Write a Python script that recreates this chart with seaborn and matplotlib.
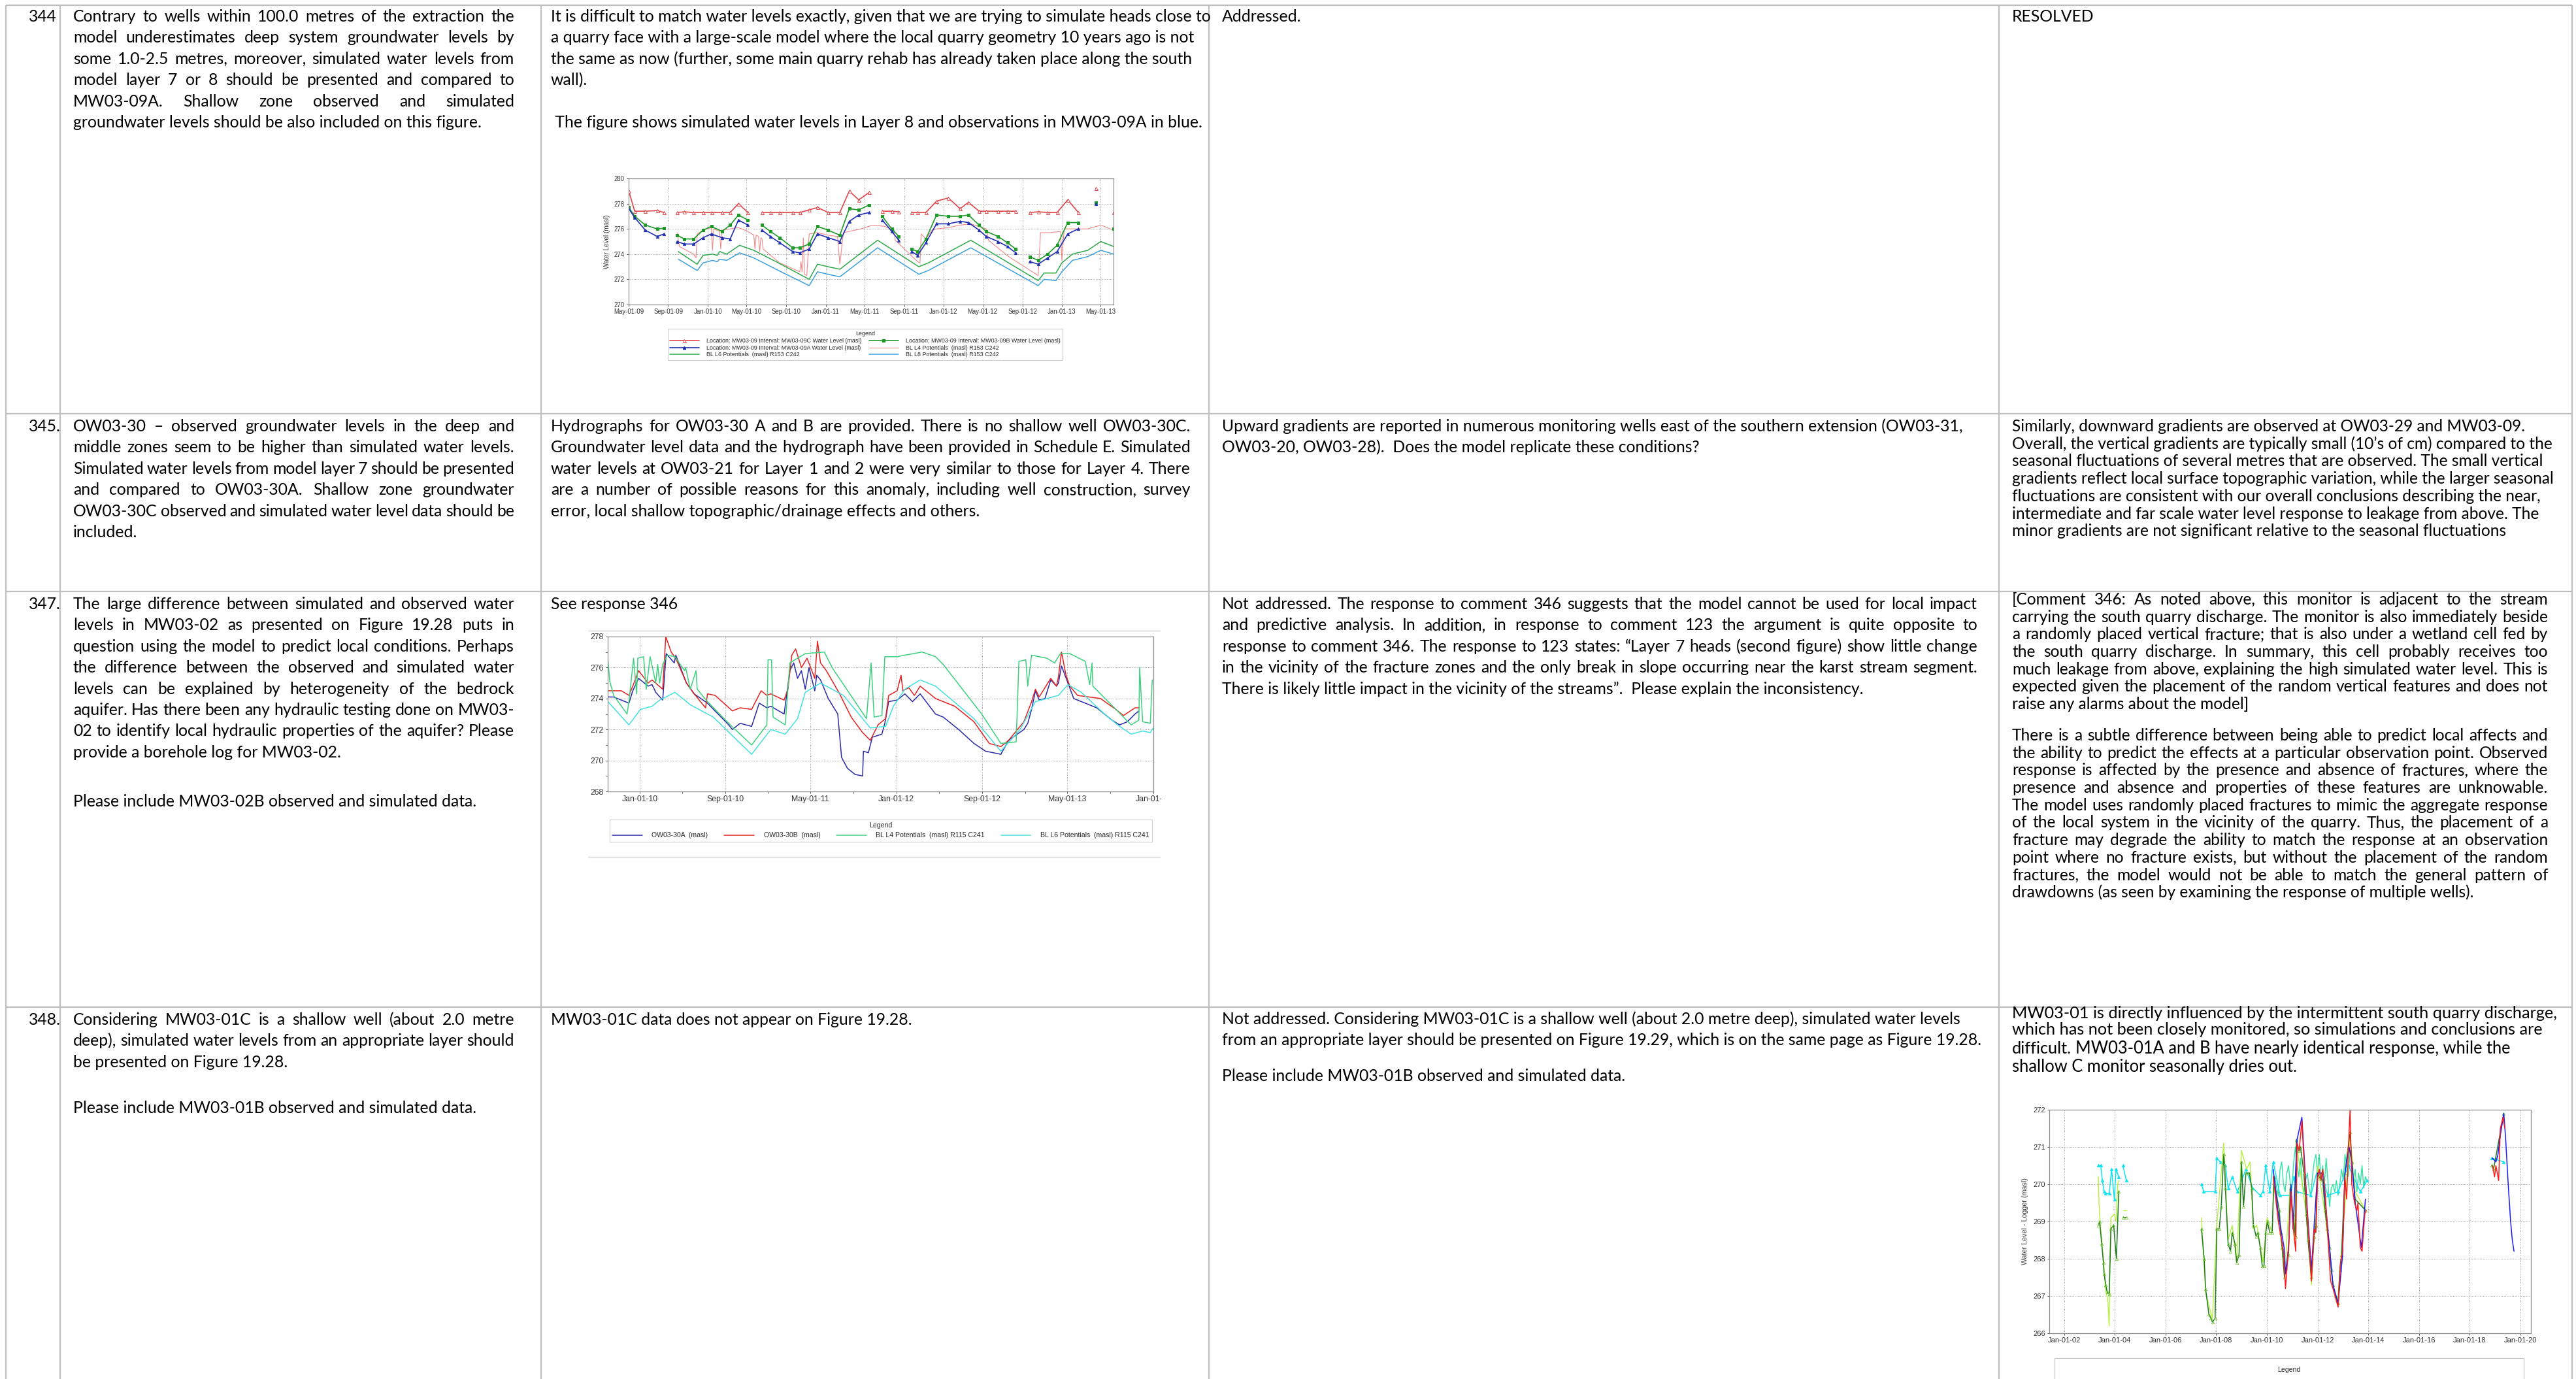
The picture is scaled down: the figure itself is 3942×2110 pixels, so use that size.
import matplotlib
matplotlib.use("Agg")
import matplotlib.pyplot as plt
import matplotlib.dates as mdates
import matplotlib.font_manager as fm
from matplotlib.lines import Line2D
from matplotlib.patches import Rectangle
import numpy as np
import pandas as pd
import seaborn as sns

# ---------------- chart 1 (MW03-09, row 344) ----------------
t_obs = [2009.33, 2009.38, 2009.47, 2009.57, 2009.63, None,
         2009.74, 2009.80, 2009.88, 2009.96, 2010.03, 2010.12, 2010.19, 2010.26, 2010.34, None,
         2010.46, 2010.53, 2010.61, 2010.72, 2010.78, 2010.86, 2010.93, 2011.02, 2011.12, 2011.20, 2011.28, 2011.37, None,
         2011.48, 2011.56, 2011.62, None,
         2011.73, 2011.78, 2011.85, 2011.94, 2012.04, 2012.14, 2012.21, 2012.30, 2012.36, 2012.46, 2012.54, 2012.61, None,
         2012.73, 2012.80, 2012.88, 2012.96, 2013.05, 2013.14, None,
         2013.29, None,
         2013.44]
mw09c = [279.0, 277.4, 277.4, 277.45, 277.3, None,
         277.3, 277.35, 277.3, 277.3, 277.3, 277.3, 277.3, 278.0, 277.3, None,
         277.3, 277.3, 277.3, 277.3, 277.3, 277.5, 277.7, 277.3, 277.3, 279.0, 278.3, 278.9, None,
         277.4, 277.4, 277.35, None,
         277.3, 277.3, 277.3, 278.2, 278.45, 277.6, 278.1, 277.4, 277.4, 277.4, 277.4, 277.4, None,
         277.3, 277.35, 277.3, 277.3, 278.3, 277.3, None,
         279.2, None,
         277.3]
mw09b = [277.7, 277.0, 276.3, 276.0, 276.05, None,
         275.5, 275.2, 275.2, 275.9, 276.2, 275.8, 276.3, 277.1, 276.7, None,
         276.3, 275.8, 275.3, 274.5, 274.5, 274.8, 276.2, 275.9, 275.5, 277.6, 277.5, 277.9, None,
         277.0, 276.0, 275.4, None,
         274.4, 274.2, 275.2, 277.1, 277.0, 277.0, 277.1, 276.3, 275.8, 275.4, 274.9, 274.4, None,
         273.8, 273.5, 274.0, 274.7, 276.5, 276.5, None,
         278.1, None,
         276.0]
mw09a = [277.6, 276.9, 275.9, 275.4, 275.6, None,
         275.0, 274.8, 274.8, 275.3, 275.6, 275.3, 275.2, 276.7, 276.3, None,
         275.9, 275.4, 274.9, 274.2, 274.1, 274.4, 275.6, 275.3, 275.0, 276.6, 277.1, 277.3, None,
         276.7, 275.8, 275.1, None,
         274.2, 273.9, 274.9, 276.4, 276.4, 276.6, 276.5, 275.9, 275.4, 275.0, 274.6, 274.1, None,
         273.4, 273.2, 273.7, 274.2, 275.6, 276.0, None,
         278.0, None,
         None]
bl4_153 = [(2009.74, 275.7), (2009.76, 274.6), (2009.88, 274.0), (2009.90, 273.7), (2009.91, 275.6),
           (2009.96, 275.9), (2010.03, 276.1), (2010.04, 274.3), (2010.05, 276.0), (2010.10, 275.8),
           (2010.11, 274.4), (2010.12, 275.9), (2010.19, 276.0), (2010.26, 276.1), (2010.34, 275.8),
           (2010.39, 275.5), (2010.40, 274.4), (2010.41, 275.5), (2010.43, 275.4), (2010.44, 274.2),
           (2010.45, 275.3), (2010.46, 275.2), (2010.47, 274.4), (2010.61, 273.3), (2010.78, 272.6),
           (2010.79, 273.4), (2010.80, 272.6), (2010.81, 275.3), (2010.82, 272.4), (2010.84, 272.3),
           (2010.86, 275.6), (2010.93, 275.7), (2011.02, 275.5), (2011.10, 275.4), (2011.12, 273.2),
           (2011.15, 275.7), (2011.20, 275.8), (2011.30, 276.0), (2011.40, 276.3), (2011.50, 276.2),
           (2011.58, 275.9), (2011.59, 275.1), (2011.78, 273.4), (2011.80, 273.3), (2011.81, 275.6),
           (2011.85, 275.2), (2011.90, 275.9), (2011.94, 276.0), (2012.04, 276.1), (2012.14, 276.3),
           (2012.23, 276.4), (2012.36, 276.0), (2012.38, 275.1), (2012.55, 273.8), (2012.80, 272.3),
           (2012.82, 275.7), (2012.90, 275.7), (2012.99, 275.8), (2013.00, 273.5), (2013.02, 276.0),
           (2013.10, 276.0), (2013.22, 276.0), (2013.33, 276.3), (2013.44, 275.9)]
bl6_153 = [(2009.75, 274.2), (2009.91, 273.2), (2009.96, 273.9), (2010.04, 274.0), (2010.08, 273.9),
           (2010.10, 274.2), (2010.16, 274.0), (2010.27, 274.7), (2010.39, 274.3), (2010.60, 273.3),
           (2010.86, 272.0), (2010.93, 273.2), (2011.02, 273.0), (2011.12, 272.8), (2011.44, 275.1),
           (2011.79, 273.0), (2011.87, 273.3), (2012.23, 275.1), (2012.80, 271.9), (2012.85, 272.5),
           (2012.95, 272.5), (2013.00, 273.3), (2013.09, 274.0), (2013.22, 274.3), (2013.33, 275.0),
           (2013.44, 274.6)]
bl8_153 = [(2009.75, 273.6), (2009.91, 272.7), (2009.96, 273.3), (2010.04, 273.5), (2010.08, 273.4),
           (2010.10, 273.6), (2010.16, 273.5), (2010.27, 274.1), (2010.39, 273.7), (2010.60, 272.7),
           (2010.86, 271.5), (2010.93, 272.6), (2011.02, 272.4), (2011.12, 272.2), (2011.44, 274.5),
           (2011.79, 272.4), (2011.87, 272.7), (2012.23, 274.5), (2012.80, 271.5), (2012.85, 272.0),
           (2012.95, 271.9), (2013.00, 272.6), (2013.09, 273.5), (2013.22, 273.8), (2013.33, 274.3),
           (2013.44, 274.0)]
legend1 = ["Location: MW03-09 Interval: MW03-09C Water Level (masl)",
           "Location: MW03-09 Interval: MW03-09A Water Level (masl)",
           "BL L6 Potentials  (masl) R153 C242",
           "Location: MW03-09 Interval: MW03-09B Water Level (masl)",
           "BL L4 Potentials  (masl) R153 C242",
           "BL L8 Potentials  (masl) R153 C242"]

# ---------------- chart 2 (OW03-30, row 347) ----------------
ow30a = [(2009.752, 274.1), (2009.797, 274.1), (2009.916, 273.7), (2009.946, 274.5), (2009.991, 275.3),
         (2010.066, 274.8), (2010.096, 274.9), (2010.125, 274.4), (2010.179, 273.9), (2010.206, 276.9),
         (2010.269, 276.3), (2010.281, 276.8), (2010.364, 275.0), (2010.424, 274.3), (2010.528, 273.7),
         (2010.693, 272.3), (2010.722, 272.0), (2010.782, 272.4), (2010.872, 272.2), (2010.931, 273.7),
         (2010.991, 273.4), (2011.021, 273.5), (2011.125, 273.0), (2011.170, 275.8), (2011.200, 276.3),
         (2011.230, 275.3), (2011.260, 275.8), (2011.290, 274.6), (2011.319, 276.0), (2011.349, 275.0),
         (2011.364, 274.5), (2011.379, 275.5), (2011.409, 275.2), (2011.469, 274.0), (2011.543, 273.0),
         (2011.573, 270.2), (2011.618, 269.5), (2011.678, 269.1), (2011.737, 269.0), (2011.743, 270.6),
         (2011.782, 270.5), (2011.812, 271.5), (2011.887, 271.7), (2011.910, 272.4), (2011.940, 273.8),
         (2012.006, 273.9), (2012.066, 274.3), (2012.125, 273.8), (2012.185, 274.3), (2012.304, 273.0),
         (2012.364, 272.8), (2012.484, 272.0), (2012.603, 271.1), (2012.693, 270.6), (2012.812, 270.4),
         (2012.872, 271.3), (2012.991, 272.0), (2013.021, 272.4), (2013.051, 273.3), (2013.081, 274.5),
         (2013.110, 273.9), (2013.155, 274.0), (2013.200, 275.2), (2013.245, 274.8), (2013.260, 275.0),
         (2013.284, 276.1), (2013.334, 275.0), (2013.379, 274.0), (2013.499, 273.6), (2013.558, 273.4),
         (2013.678, 272.6), (2013.737, 272.3), (2013.797, 272.5), (2013.857, 273.0), (2013.887, 273.2)]
ow30b = [(2009.752, 274.5), (2009.857, 274.5), (2009.916, 274.2), (2009.946, 274.8), (2009.991, 275.8),
         (2010.066, 275.0), (2010.096, 275.2), (2010.179, 274.6), (2010.203, 278.0), (2010.245, 277.0),
         (2010.281, 276.6), (2010.364, 275.0), (2010.424, 274.3), (2010.513, 273.4), (2010.528, 274.3),
         (2010.588, 274.2), (2010.722, 273.2), (2010.782, 273.4), (2010.872, 273.3), (2010.946, 274.5),
         (2010.991, 274.2), (2011.021, 274.3), (2011.125, 273.9), (2011.155, 274.6), (2011.185, 276.8),
         (2011.215, 277.2), (2011.260, 276.0), (2011.304, 276.6), (2011.364, 275.3), (2011.385, 277.7),
         (2011.409, 276.3), (2011.454, 275.8), (2011.558, 274.3), (2011.648, 272.8), (2011.737, 271.8),
         (2011.797, 271.3), (2011.857, 272.3), (2011.916, 272.7), (2011.940, 274.2), (2012.006, 274.5),
         (2012.036, 275.5), (2012.051, 274.5), (2012.096, 274.7), (2012.140, 274.2), (2012.185, 274.8),
         (2012.304, 274.0), (2012.454, 273.5), (2012.603, 272.5), (2012.722, 271.1), (2012.812, 270.9),
         (2012.872, 271.3), (2012.991, 272.5), (2013.051, 273.8), (2013.081, 274.6), (2013.110, 274.1),
         (2013.200, 275.3), (2013.245, 274.8), (2013.260, 275.4), (2013.284, 277.0), (2013.319, 275.5),
         (2013.349, 274.8), (2013.409, 274.2), (2013.588, 274.0), (2013.707, 273.3), (2013.767, 272.9),
         (2013.857, 273.4), (2013.893, 273.4)]
bl4_115 = [(2009.752, 276.5), (2009.767, 275.1), (2009.797, 274.2), (2009.901, 273.0), (2009.916, 273.8),
           (2009.952, 276.6), (2009.976, 274.3), (2009.985, 276.6), (2010.030, 276.7), (2010.051, 274.6),
           (2010.081, 276.7), (2010.125, 275.0), (2010.140, 276.2), (2010.155, 275.0), (2010.179, 276.2),
           (2010.215, 276.8), (2010.275, 276.7), (2010.349, 275.8), (2010.358, 276.0), (2010.394, 274.6),
           (2010.439, 275.8), (2010.448, 274.6), (2010.528, 273.8), (2010.693, 272.4), (2010.872, 271.0),
           (2010.991, 272.3), (2011.000, 276.5), (2011.027, 276.5), (2011.039, 272.8), (2011.134, 272.3),
           (2011.170, 276.3), (2011.290, 276.9), (2011.439, 277.0), (2011.499, 276.0), (2011.767, 272.7),
           (2011.803, 276.3), (2011.827, 272.8), (2011.887, 272.9), (2011.910, 276.7), (2012.006, 276.7),
           (2012.066, 276.8), (2012.200, 277.0), (2012.304, 276.7), (2012.364, 276.2), (2012.663, 273.0),
           (2012.812, 271.1), (2012.931, 271.2), (2012.952, 276.4), (2013.006, 276.5), (2013.021, 274.8),
           (2013.051, 276.8), (2013.170, 276.6), (2013.230, 276.3), (2013.275, 276.9), (2013.349, 276.9),
           (2013.469, 276.4), (2013.504, 274.9), (2013.522, 276.3), (2013.528, 274.8), (2013.827, 272.3),
           (2013.887, 272.6), (2013.893, 276.0), (2013.916, 272.5), (2013.976, 272.4), (2013.991, 275.2)]
bl6_115 = [(2009.752, 273.8), (2009.916, 272.3), (2010.006, 273.3), (2010.096, 273.5), (2010.155, 273.9),
           (2010.275, 274.4), (2010.394, 273.6), (2010.573, 272.8), (2010.722, 271.6), (2010.872, 270.4),
           (2011.021, 272.0), (2011.134, 271.7), (2011.230, 272.7), (2011.290, 274.4), (2011.409, 275.0),
           (2011.588, 274.2), (2011.797, 272.1), (2011.916, 272.2), (2011.976, 273.5), (2012.066, 274.6),
           (2012.185, 275.2), (2012.304, 274.8), (2012.603, 272.7), (2012.812, 270.6), (2012.961, 272.0),
           (2013.081, 273.8), (2013.260, 274.2), (2013.334, 274.9), (2013.439, 274.4), (2013.618, 273.0),
           (2013.737, 272.2), (2013.827, 271.7), (2013.916, 271.9), (2013.976, 271.8), (2014.000, 272.1)]
ticks2 = ["2010-01-01", "2010-09-01", "2011-05-01", "2012-01-01", "2012-09-01", "2013-05-01", "2014-01-01"]
minor2 = ["2010-05-01", "2011-01-01", "2011-09-01", "2012-05-01", "2013-01-01", "2013-09-01"]
legend2 = ["OW03-30A  (masl)", "OW03-30B  (masl)",
           "BL L4 Potentials  (masl) R115 C241", "BL L6 Potentials  (masl) R115 C241"]

# ---------------- chart 3 (MW03-01, row 348) ----------------
mw01c = [(2003.348, 270.5), (2003.442, 270.5), (2003.509, 270.1), (2003.577, 269.8), (2003.644, 269.75),
         (2003.779, 269.75), (2003.873, 270.4), (2003.981, 269.6), (2004.049, 270.4), (2004.156, 270.2), None,
         (2004.318, 270.5), (2004.453, 270.1), None,
         (2007.418, 270.0), (2007.512, 269.8), (2007.957, 269.8), (2008.024, 270.7), (2008.159, 270.6),
         (2008.361, 270.5), (2008.469, 269.9), (2008.631, 270.2), (2008.833, 269.8), (2009.170, 270.4),
         (2009.439, 269.9), (2009.736, 269.7), (2009.844, 269.8), (2009.951, 270.5), (2010.113, 269.8),
         (2010.248, 270.6), (2010.518, 269.7), (2010.922, 269.7), (2011.057, 270.2), (2011.191, 269.8),
         (2011.730, 269.7), (2012.000, 270.4), (2012.270, 270.0), (2012.404, 269.7), (2012.809, 269.8),
         (2013.213, 270.5), (2013.685, 269.8), (2013.954, 270.1), None,
         (2018.873, 270.7), (2019.345, 270.6)]
mw01b_log = [(2010.315, 270.2), (2010.383, 269.9), (2010.450, 269.7), (2010.518, 270.4), (2010.585, 270.6),
             (2010.652, 270.0), (2010.720, 269.8), (2010.787, 270.3), (2010.854, 270.5), (2010.922, 270.0),
             (2010.989, 269.9), (2011.057, 270.6), (2011.124, 271.0), (2011.191, 270.5), (2011.259, 270.2),
             (2011.326, 270.7), (2011.394, 270.0), (2011.461, 269.8), (2011.528, 270.1), (2011.596, 270.3),
             (2011.663, 269.9), (2011.730, 269.7), (2011.798, 270.2), (2011.865, 270.6), (2011.933, 270.8),
             (2012.000, 270.3), (2012.067, 270.8), (2012.135, 270.1), (2012.202, 270.5), (2012.270, 270.0),
             (2012.337, 270.7), (2012.404, 270.1), (2012.472, 269.4), (2012.539, 269.9), (2012.606, 270.0),
             (2012.674, 269.8), (2012.741, 270.1), (2012.809, 269.7), (2012.876, 270.0), (2012.943, 270.4),
             (2013.011, 270.1), (2013.078, 270.8), (2013.146, 270.5), (2013.213, 270.2), (2013.280, 270.9),
             (2013.348, 270.6), (2013.415, 270.1), (2013.482, 270.4), (2013.550, 269.8), (2013.617, 270.3),
             (2013.685, 270.0), (2013.752, 270.5), (2013.819, 269.9), (2013.887, 270.2), (2013.954, 270.1)]
mw01a_man = [(2003.348, 268.9), (2003.402, 269.0), (2003.482, 268.4), (2003.550, 267.9), (2003.577, 267.6),
             (2003.644, 267.3), (2003.698, 267.1), (2003.779, 267.05), (2003.846, 268.8), (2003.954, 268.9),
             (2004.062, 268.0), (2004.156, 269.8), None,
             (2004.318, 269.1), (2004.453, 269.1), None,
             (2007.418, 268.8), (2007.526, 268.0), (2007.580, 267.2), (2007.714, 266.5), (2007.795, 266.4),
             (2007.849, 266.3), (2007.957, 266.4), (2008.024, 268.8), (2008.119, 268.8), (2008.199, 269.4),
             (2008.294, 270.8), (2008.334, 270.5), (2008.361, 269.9), (2008.469, 268.4), (2008.563, 268.2),
             (2008.631, 268.7), (2008.739, 268.4), (2008.806, 267.9), (2008.900, 268.1), (2008.995, 270.6),
             (2009.075, 269.4), (2009.170, 270.3), (2009.305, 270.3), (2009.399, 269.9), (2009.466, 268.9),
             (2009.574, 268.6), (2009.642, 268.7), (2009.736, 268.3), (2009.817, 267.8), (2009.884, 267.8),
             (2009.951, 268.7), (2010.019, 269.0), (2010.113, 268.7), (2010.208, 268.7), (2010.275, 270.2),
             (2010.356, 269.8), (2010.491, 269.3), (2010.545, 268.7), (2010.598, 268.3), (2010.693, 267.5),
             (2010.854, 268.1), (2010.922, 269.9), (2011.030, 269.2), (2011.124, 268.6), (2011.164, 271.2),
             (2011.259, 270.9), (2011.326, 271.0), (2011.461, 270.3), (2011.555, 269.2), (2011.623, 268.5),
             (2011.757, 267.5), (2011.865, 268.6), (2011.933, 268.9), (2012.000, 270.3), (2012.067, 270.2),
             (2012.202, 270.1), (2012.296, 269.3), (2012.377, 268.8), (2012.472, 268.3), (2012.539, 267.7),
             (2012.606, 267.3), (2012.701, 267.0), (2012.809, 266.8), (2012.876, 267.7), (2012.943, 268.1),
             (2013.078, 270.3), (2013.186, 270.9), (2013.280, 271.4), (2013.348, 270.6), (2013.482, 269.6),
             (2013.887, 269.3), None,
             (2018.873, 270.5), (2018.941, 270.4), (2019.345, 271.9)]
mw01b_man = [(2003.348, 270.2), (2003.375, 269.5), (2003.415, 269.0), (2003.550, 268.0), (2003.644, 267.1),
             (2003.725, 266.9), (2003.779, 266.2), (2003.806, 268.0), (2003.846, 269.1), (2003.981, 269.2),
             (2004.049, 269.0), (2004.116, 270.0), (2004.156, 270.1), None,
             (2004.318, 269.3), (2004.453, 269.3), None,
             (2007.418, 269.1), (2007.580, 267.1), (2007.849, 266.4), (2008.024, 268.9), (2008.294, 271.1),
             (2008.469, 268.5), (2008.631, 268.9), (2008.806, 267.9), (2008.995, 270.9), (2009.197, 270.4),
             (2009.332, 270.6), (2009.466, 268.8), (2009.601, 268.9), (2009.844, 267.9), (2010.005, 269.1),
             (2010.208, 268.7), (2010.275, 270.1), (2010.598, 268.3), (2010.693, 267.5), (2010.922, 270.0),
             (2011.084, 268.5), (2011.164, 271.1), (2011.555, 269.2), (2011.757, 267.3), (2011.892, 269.0),
             (2012.000, 270.5), (2012.296, 269.2), (2012.606, 267.3), (2012.782, 266.8), (2012.943, 268.2),
             (2013.280, 271.3), (2013.482, 269.8), (2013.887, 269.3)]
mw01a_log = [(2010.248, 270.2), (2010.450, 269.0), (2010.652, 268.2), (2010.733, 267.2), (2010.854, 268.3),
             (2010.949, 269.8), (2011.030, 268.9), (2011.137, 268.2), (2011.191, 271.1), (2011.272, 270.9),
             (2011.380, 271.7), (2011.434, 271.0), (2011.596, 269.2), (2011.704, 268.0), (2011.757, 267.4),
             (2011.865, 268.8), (2011.933, 268.7), (2012.000, 270.2), (2012.067, 270.4), (2012.135, 270.1),
             (2012.202, 270.4), (2012.296, 269.8), (2012.377, 268.9), (2012.512, 267.4), (2012.606, 267.2),
             (2012.809, 266.7), (2012.903, 267.9), (2012.984, 268.2), (2013.078, 270.2), (2013.146, 269.6),
             (2013.240, 271.4), (2013.280, 272.0), (2013.348, 270.0), (2013.456, 269.5), (2013.550, 269.3),
             (2013.590, 269.5), (2013.685, 268.3), (2013.752, 268.2), (2013.860, 269.2), (2013.914, 269.3), None,
             (2018.900, 270.5), (2018.981, 270.2), (2019.035, 270.5), (2019.143, 270.1), (2019.210, 271.5),
             (2019.318, 271.8), (2019.385, 271.5)]
mw01b_log2 = [(2010.248, 270.4), (2010.450, 269.2), (2010.679, 268.3), (2010.733, 267.6), (2010.854, 268.3),
              (2010.949, 270.0), (2011.030, 268.8), (2011.191, 271.2), (2011.380, 271.8), (2011.596, 269.3),
              (2011.757, 267.7), (2011.865, 268.9), (2012.000, 270.3), (2012.202, 270.3), (2012.377, 269.0),
              (2012.606, 267.3), (2012.809, 266.8), (2012.984, 268.1), (2013.078, 270.3), (2013.240, 271.0),
              (2013.348, 270.6), (2013.482, 269.5), (2013.725, 268.3), (2013.887, 269.6), None,
              (2018.900, 270.7), (2019.035, 270.6), (2019.116, 270.8), (2019.183, 271.2), (2019.345, 271.9),
              (2019.412, 271.3), (2019.520, 270.0), (2019.615, 269.0), (2019.682, 268.5), (2019.749, 268.2)]

# ---------------- table text ----------------
r344_c2 = ["Contrary to wells within 100.0 metres of the extraction the",
           "model underestimates deep system groundwater levels by",
           "some 1.0-2.5 metres, moreover, simulated water levels from",
           "model layer 7 or 8 should be presented and compared to",
           "MW03-09A.  Shallow zone observed and simulated",
           "groundwater levels should be also included on this figure."]
r344_c3 = ["It is difficult to match water levels exactly, given that we are trying to simulate heads close to",
           "a quarry face with a large-scale model where the local quarry geometry 10 years ago is not",
           "the same as now (further, some main quarry rehab has already taken place along the south",
           "wall).",
           "",
           " The figure shows simulated water levels in Layer 8 and observations in MW03-09A in blue."]
r345_c2 = ["OW03-30 \u2013 observed groundwater levels in the deep and",
           "middle zones seem to be higher than simulated water levels.",
           "Simulated water levels from model layer 7 should be presented",
           "and compared to OW03-30A. Shallow zone groundwater",
           "OW03-30C observed and simulated water level data should be",
           "included."]
r345_c3 = ["Hydrographs for OW03-30 A and B are provided.  There is no shallow well OW03-30C.",
           "Groundwater level data and the hydrograph have been provided in Schedule E.  Simulated",
           "water levels at OW03-21 for Layer 1 and 2 were very similar to those for Layer 4.  There",
           "are a number of possible reasons for this anomaly, including well construction, survey",
           "error, local shallow topographic/drainage effects and others."]
r345_c4 = ["Upward gradients are reported in numerous monitoring wells east of the southern extension (OW03-31,",
           "OW03-20, OW03-28).  Does the model replicate these conditions?"]
r345_c5 = ["Similarly, downward gradients are observed at OW03-29 and MW03-09.",
           "Overall, the vertical gradients are typically small (10\u2019s of cm) compared to the",
           "seasonal fluctuations of several metres that are observed. The small vertical",
           "gradients reflect local surface topographic variation, while the larger seasonal",
           "fluctuations are consistent with our overall conclusions describing the near,",
           "intermediate and far scale water level response to leakage from above. The",
           "minor gradients are not significant relative to the seasonal fluctuations"]
r347_c2 = ["The large difference between simulated and observed water",
           "levels in MW03-02 as presented on Figure 19.28 puts in",
           "question using the model to predict local conditions.  Perhaps",
           "the difference between the observed and simulated water",
           "levels can be explained by heterogeneity of the bedrock",
           "aquifer.  Has there been any hydraulic testing done on MW03-",
           "02 to identify local hydraulic properties of the aquifer? Please",
           "provide a borehole log for MW03-02."]
r347_c4 = ["Not addressed.  The response to comment 346 suggests that the model cannot be used for local impact",
           "and predictive analysis.  In addition, in response to comment 123 the argument is quite opposite to",
           "response to comment 346.  The response to 123 states: \u201cLayer 7 heads (second figure) show little change",
           "in the vicinity of the fracture zones and the only break in slope occurring near the karst stream segment.",
           "There is likely little impact in the vicinity of the streams\u201d.  Please explain the inconsistency."]
r347_c5a = ["[Comment 346:   As noted above, this monitor is adjacent to the stream",
            "carrying the south quarry discharge. The monitor is also immediately beside",
            "a randomly placed vertical fracture; that is also under a wetland cell fed by",
            "the south quarry discharge. In summary, this cell probably receives too",
            "much leakage from above, explaining the high simulated water level. This is",
            "expected given the placement of the random vertical features and does not",
            "raise any alarms about the model]"]
r347_c5b = ["There is a subtle difference between being able to predict local affects and",
            "the ability to predict the effects at a particular observation point.  Observed",
            "response is affected by the presence and absence of fractures, where the",
            "presence and absence and properties of these features are unknowable.",
            "The model uses randomly placed fractures to mimic the aggregate response",
            "of the local system in the vicinity of the quarry.  Thus, the placement of a",
            "fracture may degrade the ability to match the response at an observation",
            "point where no fracture exists, but without the placement of the random",
            "fractures, the model would not be able to match the general pattern of",
            "drawdowns (as seen by examining the response of multiple wells)."]
r348_c2 = ["Considering MW03-01C is a shallow well (about 2.0 metre",
           "deep), simulated water levels from an appropriate layer should",
           "be presented on Figure 19.28."]
r348_c4 = ["Not addressed. Considering MW03-01C is a shallow well (about 2.0 metre deep), simulated water levels",
           "from an appropriate layer should be presented on Figure 19.29, which is on the same page as Figure 19.28."]
r348_c5 = ["MW03-01 is directly influenced by the intermittent south quarry discharge,",
           "which has not been closely monitored, so simulations and conclusions are"]

# ---------------- setup ----------------
sns.set_style("white")
names = {f.name for f in fm.fontManager.ttflist}
TXT = "Lato" if "Lato" in names else "DejaVu Sans"
CH = "Liberation Sans Narrow" if "Liberation Sans Narrow" in names else "Liberation Sans"
plt.rcParams["font.family"] = [CH, "DejaVu Sans"]

W, H = 3942, 2110
fig = plt.figure(figsize=(W / 100, H / 100), dpi=100)
ax0 = fig.add_axes([0, 0, 1, 1])
ax0.set_xlim(0, W)
ax0.set_ylim(H, 0)
ax0.axis("off")
rend = fig.canvas.get_renderer()


def rect(x0, y0, x1, y1):
    return [x0 / W, 1 - y1 / H, (x1 - x0) / W, (y1 - y0) / H]


def measure(s, size, fam=TXT):
    t = ax0.text(0, 0, s, fontsize=size, family=fam)
    w = t.get_window_extent(rend).width
    t.remove()
    return w


def fit(s, target, fam=TXT):
    return 20 * target / measure(s, 20, fam)


def put(x, y, s, size, fam=TXT):
    ax0.text(x, y, s, fontsize=size, family=fam, va="baseline", ha="left", color="black")


def para(x, y0, width, lines, size, lead, justify=False):
    for i, line in enumerate(lines):
        if not line.strip():
            continue
        y = y0 + i * lead
        nxt = lines[i + 1] if i + 1 < len(lines) else ""
        words = line.split()
        if justify and nxt.strip() and len(words) > 1:
            ws = [measure(w, size) for w in words]
            gap = (width - sum(ws)) / (len(words) - 1)
            xx = x
            for w, wd in zip(words, ws):
                put(xx, y, w, size)
                xx += wd + gap
        else:
            put(x, y, line, size)


def to_dt(yrs):
    out = []
    for y in yrs:
        y0 = int(np.floor(y))
        a = pd.Timestamp(year=y0, month=1, day=1)
        b = pd.Timestamp(year=y0 + 1, month=1, day=1)
        out.append(a + (b - a) * (y - y0))
    return out


def frame(xs, ys):
    rows, seg = [], 0
    for x, y in zip(xs, ys):
        if x is None or y is None:
            seg += 1
            continue
        rows.append((x, y, seg))
    df = pd.DataFrame(rows, columns=["yr", "v", "seg"])
    df["t"] = to_dt(df["yr"])
    return df


def frame_pairs(pairs):
    return frame([p[0] if p else None for p in pairs], [p[1] if p else None for p in pairs])


def draw(ax, df, color, lw, **kw):
    sns.lineplot(data=df, x="t", y="v", units="seg", estimator=None, sort=False,
                 ax=ax, color=color, linewidth=lw, legend=False, **kw)


def style(ax, size):
    ax.set_xlabel("")
    ax.set_ylabel("")
    ax.set_facecolor("white")
    ax.grid(True, which="major", ls=(0, (1, 1.5)), color="#A0A0A0", lw=0.7)
    for s in ax.spines.values():
        s.set_color("#8C8C8C")
        s.set_linewidth(0.9)
    ax.tick_params(which="both", labelsize=size, colors="#333333", length=2.5, width=0.6, pad=2,
                   bottom=True, left=True)
    ax.xaxis.set_major_formatter(mdates.DateFormatter("%b-%d-%y"))


# ---------------- table grid ----------------
GRID = "#BFBFBF"
col_x = [9, 92, 828, 1850, 3059, 3936]
row_y = [8, 633, 905, 1541]
for x in col_x:
    ax0.plot([x, x], [row_y[0], H], color=GRID, lw=1.6, solid_capstyle="butt")
for y in row_y:
    ax0.plot([col_x[0], col_x[-1]], [y, y], color=GRID, lw=1.6, solid_capstyle="butt")

# ---------------- table text ----------------
S = 0.5 * (fit(r344_c3[0], 997) + fit(r345_c4[0], 1150))
S5 = fit(r347_c5a[1], 812)
LEAD = 32.4
LEAD5 = 26.7

for num, y in zip(["344", "345.", "347.", "348."], [33, 660, 932, 1568]):
    put(44, y, num, S)

para(112, 33, 675, r344_c2, S, LEAD, justify=True)
para(843, 33, 985, r344_c3, S, LEAD)
put(1870, 33, "Addressed.", S)
put(3079, 33, "RESOLVED", S)

para(112, 660, 675, r345_c2, S, LEAD, justify=True)
para(843, 660, 979, r345_c3, S, LEAD, justify=True)
para(1870, 660, 1156, r345_c4, S, LEAD)
para(3079, 660, 820, r345_c5, S5, LEAD5)

para(112, 932, 675, r347_c2, S, LEAD, justify=True)
put(112, 1234, "Please include MW03-02B observed and simulated data.", S)
put(843, 932, "See response 346", S)
para(1870, 932, 1156, r347_c4, S, LEAD, justify=True)
para(3079, 925, 820, r347_c5a, S5, LEAD5, justify=True)
para(3079, 1133, 820, r347_c5b, S5, LEAD5, justify=True)

para(112, 1568, 675, r348_c2, S, LEAD, justify=True)
put(112, 1703, "Please include MW03-01B observed and simulated data.", S)
put(843, 1568, "MW03-01C data does not appear on Figure 19.28.", S)
para(1870, 1567, 1156, r348_c4, S, LEAD)
put(1870, 1654, "Please include MW03-01B observed and simulated data.", S)
S5a = fit(r348_c5[0], 836)
S5b = fit("MW03-01A and B have nearly identical response, while the", 668)
para(3079, 1558, 836, r348_c5, S5a, 25)
put(3079, 1612, "difficult.", S5a)
put(3079 + measure("difficult. ", S5a), 1612, "MW03-01A and B have nearly identical response, while the", S5b)
put(3079, 1640, "shallow C monitor seasonally dries out.", S5b)

# ---------------- chart 1 ----------------
sz1 = fit("May-01-09", 46, CH)
ax1 = fig.add_axes(rect(962, 273, 1704, 466))
C1 = {"L4": "#F08A8A", "L6": "#2EA84A", "L8": "#3DA0DC", "C": "#E0474C", "B": "#1E9A28", "A": "#2030B0"}
draw(ax1, frame_pairs(bl4_153), C1["L4"], 0.8)
draw(ax1, frame_pairs(bl6_153), C1["L6"], 1.1)
draw(ax1, frame_pairs(bl8_153), C1["L8"], 1.1)
draw(ax1, frame(t_obs, mw09c), C1["C"], 1.2, marker="^", markersize=3.6, markerfacecolor="white",
     markeredgecolor=C1["C"], markeredgewidth=0.7)
draw(ax1, frame(t_obs, mw09b), C1["B"], 1.2, marker="s", markersize=2.6, markerfacecolor=C1["B"],
     markeredgecolor=C1["B"])
draw(ax1, frame(t_obs, mw09a), C1["A"], 1.2, marker="^", markersize=3.0, markerfacecolor=C1["A"],
     markeredgecolor=C1["A"])
style(ax1, sz1)
ax1.set_xlim(pd.Timestamp("2009-05-01"), pd.Timestamp("2013-06-10"))
ax1.set_ylim(270, 280)
ax1.set_yticks(np.arange(270, 281, 2))
ax1.xaxis.set_major_locator(mdates.MonthLocator(bymonth=[1, 5, 9], bymonthday=1))
ax1.set_ylabel("Water Level (masl)", fontsize=fit("Water Level (masl)", 83, "Liberation Sans"),
               family="Liberation Sans", color="#333333", labelpad=4)
lsz1 = fit(legend1[0], 235, CH)
h1 = [Line2D([], [], color=C1["C"], lw=1.2, marker="^", ms=3.6, mfc="white", mec=C1["C"], mew=0.7),
      Line2D([], [], color=C1["A"], lw=1.2, marker="^", ms=3.0, mfc=C1["A"], mec=C1["A"]),
      Line2D([], [], color=C1["L6"], lw=1.1),
      Line2D([], [], color=C1["B"], lw=1.2, marker="s", ms=2.6, mfc=C1["B"], mec=C1["B"]),
      Line2D([], [], color=C1["L4"], lw=0.8),
      Line2D([], [], color=C1["L8"], lw=1.1)]
lg1 = fig.legend(h1, legend1, loc="upper left", bbox_to_anchor=rect(1022, 503, 1626, 566), mode="expand",
                 ncol=2, fontsize=lsz1, title="Legend", title_fontsize=lsz1, frameon=True, fancybox=False,
                 edgecolor="#C0C0C0", borderaxespad=0, borderpad=0.35, labelspacing=0.2, handlelength=5,
                 handletextpad=1.3, columnspacing=2)
lg1.get_frame().set_linewidth(0.8)

# ---------------- chart 2 ----------------
sz2 = fit("Jan-01-10", 55, CH)
ax0.plot([900, 1775], [965, 965], color="#C8C8C8", lw=0.9)
ax0.plot([900, 1775], [1311, 1311], color="#C8C8C8", lw=0.9)
ax2 = fig.add_axes(rect(930, 974, 1765, 1211))
C2 = ["#2B2BA6", "#E52222", "#3DD17F", "#45E0E0"]
for pairs, c in zip([ow30a, ow30b, bl4_115, bl6_115], C2):
    draw(ax2, frame_pairs(pairs), c, 1.1)
style(ax2, sz2)
ax2.set_xlim(pd.Timestamp("2009-10-02"), pd.Timestamp("2014-01-01"))
ax2.set_ylim(268, 278)
ax2.set_yticks(np.arange(268, 279, 2))
ax2.set_yticks(np.arange(269, 278, 2), minor=True)
ax2.set_xticks(pd.to_datetime(ticks2))
ax2.set_xticks(pd.to_datetime(minor2), minor=True)
ax2.xaxis.set_major_formatter(mdates.DateFormatter("%b-%d-%y"))
ax2.tick_params(which="minor", length=2, width=0.6, colors="#333333")
fig.add_artist(Rectangle((1777 / W, 1 - 1250 / H), 60 / W, 40 / H, transform=fig.transFigure,
                         facecolor="white", edgecolor="none", zorder=10))
lsz2 = fit(legend2[2], 167, CH)
h2 = [Line2D([], [], color=c, lw=1.1) for c in C2]
lg2 = fig.legend(h2, legend2, loc="upper left", bbox_to_anchor=rect(933, 1254, 1763, 1299), mode="expand",
                 ncol=4, fontsize=lsz2, title="Legend", title_fontsize=lsz2, frameon=True, fancybox=False,
                 edgecolor="#C0C0C0", borderaxespad=0, borderpad=0.4, handlelength=4.3,
                 handletextpad=1.4, columnspacing=2)
lg2.get_frame().set_linewidth(0.8)

# ---------------- chart 3 ----------------
sz3 = fit("Jan-01-02", 50, CH)
ax3 = fig.add_axes(rect(3136, 1698, 3873, 2040))
draw(ax3, frame_pairs(mw01b_log), "#2CE6A0", 1.0)
draw(ax3, frame_pairs(mw01c), "#10E4F0", 1.1, marker="^", markersize=3.0, markerfacecolor="#10E4F0",
     markeredgecolor="#10E4F0")
draw(ax3, frame_pairs(mw01b_man), "#B5F23C", 1.0)
draw(ax3, frame_pairs(mw01a_man), "#1E7B1E", 1.1, marker="^", markersize=3.2, markerfacecolor="none",
     markeredgecolor="#7CC83C", markeredgewidth=0.6)
draw(ax3, frame_pairs(mw01b_log2), "#1A1AFF", 1.1)
draw(ax3, frame_pairs(mw01a_log), "#FF1A1A", 1.1)
style(ax3, sz3)
ax3.set_xlim(pd.Timestamp("2001-06-01"), pd.Timestamp("2020-06-01"))
ax3.set_ylim(266, 272)
ax3.set_yticks(np.arange(266, 273, 1))
ax3.xaxis.set_major_locator(mdates.YearLocator(2, month=1, day=1))
ax3.xaxis.set_major_formatter(mdates.DateFormatter("%b-%d-%y"))
ax3.set_ylabel("Water Level - Logger (masl)",
               fontsize=fit("Water Level - Logger (masl)", 131, "Liberation Sans"),
               family="Liberation Sans", color="#333333", labelpad=5)
# legend box of chart 3 runs past the bottom of the page; only its title shows
ax0.add_patch(Rectangle((3144, 2078), 3862 - 3144, 80, facecolor="white", edgecolor="#C0C0C0", lw=0.8))
ax0.text((3144 + 3862) / 2, 2096, "Legend", fontsize=lsz2, family=CH, color="#333333",
         ha="center", va="center")

fig.savefig("out.png", dpi=100)
plt.close("all")
